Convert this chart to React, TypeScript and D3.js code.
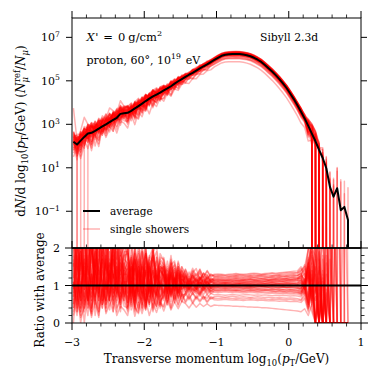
import React from 'react';
import * as d3 from 'd3';

// log10(pT/GeV) bin centres
const binCenters = [
  -2.98, -2.93, -2.88, -2.83, -2.78, -2.73, -2.68, -2.63, -2.58, -2.53, -2.48, -2.43, -2.38, -2.33, -2.28,
  -2.23, -2.18, -2.13, -2.08, -2.03, -1.98, -1.93, -1.88, -1.83, -1.78, -1.73, -1.68, -1.63, -1.58, -1.53,
  -1.48, -1.43, -1.38, -1.33, -1.28, -1.23, -1.18, -1.13, -1.08, -1.03, -0.98, -0.93, -0.88, -0.83, -0.78,
  -0.73, -0.68, -0.63, -0.58, -0.53, -0.48, -0.43, -0.38, -0.33, -0.28, -0.23, -0.18, -0.13, -0.08, -0.03,
  0.02, 0.07, 0.12, 0.17, 0.22, 0.27, 0.32, 0.37, 0.42, 0.47, 0.52, 0.57, 0.62, 0.67, 0.72, 0.77, 0.82, 0.87,
];

// average spectrum, log10 of dN/dlog10(pT); null = empty bin
const averageLog10: (number | null)[] = [
  2.2, 2.07, 2.25, 2.42, 2.58, 2.61, 2.7, 2.8, 2.9, 3.0, 3.1, 3.2, 3.3, 3.48, 3.51,
  3.53, 3.62, 3.73, 3.84, 3.95, 4.07, 4.18, 4.28, 4.37, 4.46, 4.56, 4.65, 4.75, 4.87, 4.98,
  5.08, 5.18, 5.28, 5.37, 5.47, 5.57, 5.67, 5.76, 5.86, 5.96, 6.06, 6.15, 6.2, 6.22, 6.23,
  6.23, 6.23, 6.21, 6.18, 6.13, 6.06, 5.97, 5.87, 5.73, 5.58, 5.43, 5.26, 5.08, 4.88, 4.67,
  4.42, 4.16, 3.88, 3.58, 3.27, 2.93, 2.57, 2.22, 1.82, 1.45, 0.98, 0.12, -0.33, 0.06, -0.95, -0.8, -1.4, null,
];

// single showers: ratio to the average, in percent (bins 0..76)
const singleShowerRatioPct: number[][] = [
  [140,60,210,90,170,40,130,250,80,110,190,70,150,95,120, 60,180,95,40,150,130,70,200,110,55, 75,140,90,120,60,115, 115,90,108,120,95,105,112,98, 101,102,103,102,101,102,103,104,103,102,102,101,102,103,102,101,102,103,102,102,101,102,103,102, 95,118,75,160, 80,140,0,210,0,0,0,0,0,0],
  [60,180,120,0,90,220,70,140,110,40,160,130,75,180,90, 150,45,170,90,35,135,160,60,120,140, 125,65,105,140,80,110, 82,105,90,85,108,95,88,100, 95,96,95,94,95,96,95,94,94,95,96,95,94,95,96,95,94,95,95,96,95,94,93,94, 88,75,120,45, 130,0,95,0,250,0,0,0,0,0],
  [3500,150,80,200,60,120,280,100,50,170,90,210,120,65,150, 200,80,140,170,50,160,90,190,75,140, 155,85,135,80,150,100, 125,98,118,95,122,105,115,108, 110,111,110,109,110,111,112,111,110,110,111,112,111,110,111,112,113,112,111,112,113,114,115,116, 125,100,165,210, 90,0,180,0,0,600,0,0,0,0],
  [0,130,50,160,110,30,200,80,140,60,120,170,55,100,140, 40,130,35,150,100,55,140,70,45,115, 60,120,70,125,65,100, 100,80,95,82,76,98,84,94, 90,89,90,91,90,89,88,89,90,91,90,89,90,89,88,89,90,89,88,88,87,88,87,86, 82,100,50,130, 0,170,60,0,0,0,0,0,0,0],
  [220,100,260,150,80,190,120,300,140,90,240,160,110,200,130, 170,220,80,190,120,200,85,165,190,105, 150,95,165,105,145,100, 130,105,132,112,138,108,125,112, 118,119,118,117,118,119,120,119,118,119,120,121,120,119,120,121,122,121,122,123,124,123,124,125, 135,110,175,90, 200,60,0,300,0,0,800,0,0,0],
  [100,30,180,70,240,130,60,160,200,90,140,50,190,110,80, 130,175,55,125,190,75,150,80,135,165, 130,80,140,90,120,140, 95,118,100,92,120,102,97,112, 105,104,105,106,105,104,105,106,107,106,105,104,105,106,105,106,107,106,105,106,107,106,107,108, 112,90,145,60, 150,0,0,130,0,0,0,0,0,0],
  [50,120,70,30,150,90,190,40,100,160,60,110,200,70,95, 45,115,150,55,125,40,105,140,60,50, 100,55,115,65,105,75, 76,98,82,95,78,92,96,82, 88,87,88,89,88,87,88,87,86,87,88,87,86,87,88,87,86,85,86,85,84,85,84,83, 80,98,55,140, 0,80,0,0,500,0,0,0,0,0],
  [190,250,130,300,170,210,90,180,260,150,110,230,170,400,210, 185,95,215,120,195,105,180,165,90,175, 170,110,160,105,150,115, 138,112,135,145,116,132,115,130, 125,126,127,126,125,126,127,128,127,126,127,128,127,128,129,128,127,128,129,130,131,132,133,134, 140,150,195,260, 240,130,300,0,0,0,900,0,0,0],
  [130,80,30,140,100,60,170,120,70,210,100,140,80,160,60, 120,150,70,135,40,165,115,65,140,80, 115,130,70,120,80,125, 90,110,88,106,86,102,108,92, 98,97,98,99,98,97,98,99,98,97,98,97,98,99,98,97,98,99,98,97,96,97,98,97, 92,115,70,180, 60,200,0,0,0,0,0,0,1500,0],
  [80,210,150,90,260,110,160,70,190,130,250,90,160,120,170, 160,70,185,100,155,85,175,145,80,150, 145,85,150,95,135,90, 122,100,126,104,118,124,102,120, 112,113,112,111,112,113,112,113,114,113,112,113,114,113,112,113,114,115,114,115,116,115,116,117, 120,100,160,230, 110,0,0,0,220,0,0,0,0,0],
  [40,110,30,90,60,130,20,80,50,110,35,90,60,120,45, 40,110,30,95,55,35,100,50,90,40, 85,48,95,55,88,58, 84,66,80,68,85,70,66,79, 75,76,75,74,75,76,75,74,75,76,75,74,75,74,75,74,73,74,73,74,73,72,73,72, 70,85,40,115, 0,0,120,0,0,0,0,0,0,0],
  [160,90,140,230,50,170,110,60,150,220,80,130,100,60,140, 70,140,165,65,125,150,50,140,80,65, 120,75,125,80,115,130, 92,110,96,90,108,104,92,105, 100,101,100,99,100,101,100,99,100,101,100,101,100,99,100,101,102,101,100,101,102,101,100,101, 105,88,130,65, 170,0,140,0,0,0,0,2500,0,0],
  [270,140,200,110,190,280,130,220,90,180,450,260,110,190,150, 195,105,185,85,170,205,100,180,120,105, 160,105,155,165,100,150, 132,110,138,115,112,132,128,114, 122,123,122,121,122,123,124,123,122,123,124,123,124,125,124,123,124,125,126,125,126,127,128,127, 130,145,110,250, 250,100,0,0,0,0,0,0,400,0],
  [70,150,100,40,180,80,130,200,60,110,170,40,120,90,130, 130,50,145,75,60,135,55,120,130,60, 70,115,75,120,72,110, 84,104,86,100,82,102,98,86, 93,92,93,94,93,92,93,94,93,92,93,92,91,92,93,92,91,92,91,90,91,90,89,90, 85,100,60,150, 0,120,0,80,0,0,0,0,0,0],
  [120,200,60,170,130,240,90,150,110,60,190,120,230,80,130, 145,175,80,155,65,140,170,75,145,90, 130,145,80,135,88,130, 118,96,120,100,116,98,115,100, 108,107,108,109,108,107,108,109,108,109,110,109,108,109,110,109,110,111,110,111,112,111,112,113, 115,95,150,80, 140,190,0,0,0,700,0,0,0,0],
  [30,90,0,60,120,40,80,20,100,50,70,130,30,80,60, 35,95,45,28,90,40,100,35,80,55, 45,85,42,80,50,82, 58,76,56,72,60,72,58,70, 66,65,66,67,66,65,66,65,64,65,66,65,64,65,64,63,64,63,64,63,62,63,62,61, 60,72,35,95, 0,60,0,0,0,0,0,0,0,0],
  [180,70,250,130,90,200,150,280,100,170,60,200,140,250,110, 110,195,95,170,80,185,110,90,175,100, 150,90,140,155,95,138, 125,104,128,108,124,106,122,108, 115,116,115,114,115,116,117,116,115,116,117,116,117,118,117,116,117,118,119,118,119,120,121,120, 125,150,100,220, 190,0,260,0,170,0,0,0,0,0],
  [110,40,160,70,20,130,50,170,90,60,140,70,110,40,120, 55,125,40,110,135,45,115,60,45,110, 65,112,58,105,68,100, 95,74,92,77,96,76,92,78, 85,84,85,86,85,84,85,84,83,84,85,84,83,84,83,82,83,82,81,82,81,80,81,80, 78,92,50,120, 50,0,0,0,0,0,0,0,0,0],
  [150,300,190,250,120,280,200,140,310,170,230,120,270,180,200, 215,120,195,225,105,190,125,205,110,185, 165,115,170,108,160,115, 142,118,140,122,144,120,138,122, 128,129,128,127,128,129,130,129,128,129,130,131,130,129,130,131,132,131,132,133,134,135,134,135, 145,125,190,280, 280,150,0,350,0,0,0,0,0,3000],
  [90,160,120,60,200,100,140,80,230,120,70,180,90,150,100, 135,65,160,85,150,70,165,90,75,145, 125,80,135,85,130,82, 112,92,115,95,112,94,110,96, 103,102,103,104,103,102,103,104,103,104,103,102,103,104,105,104,103,104,105,104,105,106,105,104, 108,90,140,55, 100,0,0,160,0,0,0,0,0,0],
  [20,70,15,40,80,15,60,30,90,25,50,70,20,45,35, 20,65,18,55,25,62,20,52,28,58, 32,60,35,56,38,58, 52,40,54,42,52,44,51,44, 48,47,47,46,46,45,45,44,44,43,43,42,42,41,41,40,39,38,37,36,35,34,33,32, 30,38,20,50, 0,0,0,0,0,0,0,0,0,0],
  [250,130,190,90,220,160,270,110,180,240,100,170,210,130,180, 185,100,200,120,90,180,115,195,105,170, 155,100,160,105,150,104, 132,110,130,112,134,112,128,114, 120,121,120,119,120,121,122,121,120,121,122,121,122,123,122,121,122,123,124,123,124,125,126,127, 132,110,170,85, 160,240,0,0,0,0,0,0,0,0],
  [40,100,170,120,60,140,190,90,40,130,160,80,110,170,70, 125,60,145,70,165,80,55,140,70,125, 80,130,72,120,80,118, 106,88,108,90,104,89,104,92, 97,96,97,98,97,96,97,98,97,96,97,96,97,98,97,96,97,96,95,96,95,96,95,94, 92,105,70,190, 0,90,0,0,0,300,0,0,0,0],
  [140,220,80,180,110,60,200,130,170,90,230,110,80,180,120, 145,75,170,90,155,185,80,150,165,85, 138,86,132,145,84,128, 114,100,112,104,110,102,112,101, 107,108,107,106,107,108,107,106,107,108,107,108,109,108,107,108,109,108,109,110,109,110,111,112, 115,100,150,200, 120,0,0,0,0,0,0,2000,0,0],
  [60,20,110,50,90,30,140,70,40,100,60,30,90,55,110, 95,35,85,115,40,90,45,100,55,45, 90,50,94,54,86,56, 78,62,80,64,77,63,76,64, 70,71,70,69,70,71,70,69,70,69,68,69,70,69,68,69,68,67,68,67,66,67,66,65, 62,80,40,100, 0,0,0,0,0,0,0,0,0,0],
  [200,110,60,230,140,100,170,60,210,150,120,190,70,160,140, 160,85,175,100,190,90,155,175,95,150, 142,92,148,88,140,98, 124,104,126,106,122,105,121,107, 113,112,113,114,113,112,113,114,113,114,115,114,113,114,115,114,115,116,115,116,117,116,117,118, 120,100,160,70, 210,0,170,0,0,0,0,0,0,0],
  [110,50,190,130,70,25,150,100,60,180,80,120,150,50,100, 65,150,50,130,75,55,145,70,125,60, 115,70,120,75,112,72, 101,84,100,85,99,86,98,85, 92,91,92,93,92,91,92,91,90,91,92,91,90,91,90,89,90,89,90,89,88,89,88,87, 84,100,55,140, 0,0,110,0,0,0,0,0,0,0],
  [230,160,290,800,260,190,140,240,180,300,130,210,160,230,170, 195,230,115,210,125,200,120,190,205,120, 175,120,180,115,165,122, 144,124,146,126,142,123,140,125, 130,131,130,129,130,131,132,131,130,131,132,133,132,131,132,133,134,133,134,135,136,137,138,139, 150,130,200,270, 300,200,0,0,450,0,0,0,0,0],
  [120,170,40,100,150,220,70,120,160,80,130,200,110,70,160, 80,165,70,150,85,60,155,90,70,140, 125,80,132,78,126,84, 110,92,112,94,108,93,110,95, 101,100,101,102,101,100,101,102,101,100,101,102,101,100,101,102,103,102,101,102,103,102,101,102, 106,90,135,60, 90,110,0,0,0,0,0,0,0,0],
  [50,100,20,80,40,110,60,15,90,30,70,100,40,65,85, 30,90,40,25,85,35,95,30,75,50, 42,82,38,75,45,78, 54,70,52,68,56,69,54,67, 62,61,62,63,62,61,62,61,60,61,62,61,60,61,60,59,60,59,58,59,58,57,58,57, 55,65,30,90, 0,0,0,0,0,0,0,0,0,0],
  [170,40,230,110,60,260,140,90,200,50,150,180,70,130,220, 80,170,60,140,120,45,160,100,75,150, 125,80,130,85,120,95, 112,94,110,98,114,96,108,100, 104,103,104,105,104,103,104,105,104,103,104,105,104,103,104,105,106,105,104,105,106,105,106,105, 110,90,150,40, 0,120,230,0,0,0,0,0,0,0],
  [90,200,40,150,250,70,120,30,170,110,60,210,100,50,150, 140,55,120,75,160,90,50,135,100,70, 85,120,75,115,90,105, 100,88,104,90,98,86,102,92, 96,95,96,97,96,95,96,95,94,95,96,95,96,97,96,95,96,95,94,95,94,95,94,93, 90,110,65,175, 140,0,0,0,0,0,0,0,0,0],
  [280,120,60,200,150,300,90,170,230,120,70,250,160,100,190, 190,90,170,130,75,185,140,95,175,120, 150,100,145,95,140,110, 128,106,125,110,122,108,120,112, 116,117,116,115,116,117,118,117,116,117,118,117,118,119,118,117,118,119,120,119,120,121,122,121, 128,115,160,110, 220,0,0,180,0,350,0,0,0,0],
  [60,140,190,40,110,70,160,220,50,90,130,30,150,80,110, 55,120,45,105,130,50,110,75,40,100, 105,60,110,65,100,70, 80,95,82,92,78,94,80,90, 87,86,87,88,87,86,87,86,85,86,87,86,85,86,87,86,85,84,85,84,83,84,83,82, 78,92,45,105, 0,0,0,90,0,0,0,0,0,0],
  [130,250,90,170,40,210,120,70,180,140,260,90,120,200,60, 120,160,70,150,95,175,80,145,110,90, 140,90,130,100,135,92, 100,118,104,115,102,116,100,114, 109,110,109,108,109,110,109,110,111,110,109,110,111,110,111,112,111,112,113,112,113,114,113,114, 120,132,90,200, 180,100,0,0,0,0,0,0,0,0],
  [300,150,220,100,270,190,60,240,160,290,110,200,250,140,180, 210,110,190,150,205,125,175,200,115,160, 110,165,115,160,120,150, 115,136,118,132,114,134,118,130, 124,125,124,123,124,125,126,125,124,125,126,125,126,127,126,125,126,127,128,127,128,129,130,131, 138,155,120,240, 260,180,0,0,0,0,0,0,0,0],
  [110,60,170,230,80,130,40,190,120,60,150,220,90,140,70, 95,145,60,130,110,65,150,85,125,100, 80,125,85,118,82,116, 106,90,104,92,108,94,102,96, 99,98,99,100,99,98,99,100,99,98,99,100,99,98,99,100,101,100,99,100,99,100,99,98, 96,80,125,50, 70,0,130,0,0,0,0,0,0,0],
  [120,30,90,150,60,20,130,80,170,40,100,60,140,30,90, 45,110,70,35,120,60,100,40,95,70, 100,58,98,62,95,66, 74,90,76,88,72,90,76,86, 82,81,82,83,82,81,82,81,80,81,82,81,80,81,80,79,80,79,78,79,78,77,78,77, 74,88,55,30, 0,0,0,0,0,0,0,0,0,0],
  [70,220,140,260,110,180,250,90,130,200,60,170,120,230,100, 170,80,155,185,95,140,70,180,130,100, 100,150,98,145,105,140, 104,124,106,120,102,122,108,118, 114,115,114,113,114,115,114,113,114,115,116,115,114,115,116,115,116,117,116,117,118,117,118,119, 126,108,150,190, 100,0,0,250,0,0,0,0,0,0],
  [190,110,70,240,150,90,210,130,60,180,120,80,230,110,160, 100,150,60,165,80,140,115,70,155,95, 128,84,125,88,132,90, 98,114,100,112,96,116,100,110, 106,105,106,107,106,105,106,107,106,105,106,107,106,105,106,107,108,107,106,107,108,107,106,107, 115,96,140,75, 0,150,0,0,0,0,600,0,0,0],
];

const xMajorTicks = [-3, -2, -1, 0, 1];
const yMajorExponents = [-1, 1, 3, 5, 7];
const ratioMajorTicks = [0, 1, 2];
const ratioMinorTicks = [0.2, 0.4, 0.6, 0.8, 1.2, 1.4, 1.6, 1.8];

const FONT = '"DejaVu Serif", serif';

type Seg = { t: string; it?: boolean; pos?: 'sub' | 'sup'; dx?: number };
function Rich({ segs, size, ...rest }: { segs: Seg[]; size: number; [k: string]: any }) {
  let cur = 0;
  const kids = segs.map((s, i) => {
    const off = s.pos === 'sub' ? size * 0.28 : s.pos === 'sup' ? -size * 0.42 : 0;
    const dy = off - cur;
    cur = off;
    return (
      <tspan key={i} dy={dy} dx={s.dx} fontStyle={s.it ? 'italic' : 'normal'} fontSize={s.pos ? size * 0.7 : size}>
        {s.t}
      </tspan>
    );
  });
  return (
    <text fontSize={size} fontFamily={FONT} fill="#000" style={{ whiteSpace: 'pre' }} {...rest}>
      {kids}
    </text>
  );
}

export default function App() {
  const W = 379, H = 377;
  const L = 72, R = 361, T = 18, M = 248, B = 323;
  const MAJ = 7, MIN = 3.5;

  const x = d3.scaleLinear().domain([-3, 1]).range([L, R]);
  const y = d3.scaleLog().domain([Math.pow(10, -2.69), Math.pow(10, 7.89)]).range([M, T]);
  const yr = d3.scaleLinear().domain([0, 2]).range([B, M]);
  const TINY = 1e-300;

  const avg = averageLog10.map((v) => (v === null ? 0 : Math.pow(10, v)));
  const line = d3
    .line<[number, number]>()
    .x((d) => x(d[0]))
    .y((d) => y(Math.max(d[1], TINY)));
  const rline = d3
    .line<[number, number]>()
    .x((d) => x(d[0]))
    .y((d) => yr(d[1]));

  const showerPaths = singleShowerRatioPct.map((row) =>
    line(binCenters.map((c, i) => [c, i < row.length ? (avg[i] * row[i]) / 100 : 0] as [number, number]))
  );
  const ratioPaths = singleShowerRatioPct.map((row) =>
    rline(row.map((r, i) => [binCenters[i], r / 100] as [number, number]))
  );
  const avgPath = line(binCenters.map((c, i) => [c, avg[i]] as [number, number]));

  const xAll = d3.range(-30, 11, 2).map((v) => v / 10);
  const xMinor = xAll.filter((v) => Math.abs(v - Math.round(v)) > 1e-6);

  const red = 'rgb(255,0,0)';
  const RW = 1.5;

  return (
    <svg width={W} height={H} style={{ position: 'absolute', left: 0, top: 0, background: '#fff' }}>
      <defs>
        <clipPath id="cTop">
          <rect x={L} y={T} width={R - L} height={M - T} />
        </clipPath>
        <clipPath id="cBot">
          <rect x={L} y={M} width={R - L} height={B - M} />
        </clipPath>
      </defs>
      <rect x={0} y={0} width={W} height={H} fill="#fff" />

      {/* top panel */}
      <g clipPath="url(#cTop)">
        {showerPaths.map((p, i) => (
          <path key={i} d={p || ''} fill="none" stroke={red} strokeOpacity={0.3} strokeWidth={RW} strokeLinejoin="round" />
        ))}
        <path d={avgPath || ''} fill="none" stroke="#000" strokeWidth={2} strokeLinejoin="round" />
      </g>

      {/* ratio panel */}
      <g clipPath="url(#cBot)">
        {ratioPaths.map((p, i) => (
          <path key={i} d={p || ''} fill="none" stroke={red} strokeOpacity={0.3} strokeWidth={RW} strokeLinejoin="round" />
        ))}
        <line x1={L} x2={R} y1={yr(1)} y2={yr(1)} stroke="#000" strokeWidth={2} />
      </g>

      {/* frames */}
      <rect x={L} y={T} width={R - L} height={M - T} fill="none" stroke="#000" strokeWidth={1} />
      <rect x={L} y={M} width={R - L} height={B - M} fill="none" stroke="#000" strokeWidth={1} />
      <line x1={L} x2={R} y1={M} y2={M} stroke="#000" strokeWidth={1.6} />

      {/* x ticks */}
      {xMajorTicks.map((v) => (
        <g key={'xm' + v} stroke="#000" strokeWidth={1}>
          <line x1={x(v)} x2={x(v)} y1={T} y2={T - MAJ} />
          <line x1={x(v)} x2={x(v)} y1={M} y2={M - MAJ} />
          <line x1={x(v)} x2={x(v)} y1={B} y2={B + MAJ} />
        </g>
      ))}
      {xMinor.map((v) => (
        <g key={'xn' + v} stroke="#000" strokeWidth={0.8}>
          <line x1={x(v)} x2={x(v)} y1={T} y2={T - MIN} />
          <line x1={x(v)} x2={x(v)} y1={M} y2={M - MIN} />
          <line x1={x(v)} x2={x(v)} y1={B} y2={B + MIN} />
        </g>
      ))}
      {xMajorTicks.map((v) => (
        <text key={'xl' + v} x={x(v)} y={346} fontSize={11} fontFamily={FONT} textAnchor="middle">
          {v < 0 ? '\u2212' + Math.abs(v) : String(v)}
        </text>
      ))}

      {/* log y ticks */}
      {yMajorExponents.map((e) => {
        const yy = y(Math.pow(10, e));
        return (
          <g key={'ye' + e}>
            <line x1={L - MAJ + 1} x2={L} y1={yy} y2={yy} stroke="#000" strokeWidth={1} />
            <line x1={R} x2={R + MAJ - 1} y1={yy} y2={yy} stroke="#000" strokeWidth={1} />
            <Rich
              x={60}
              y={yy + 4}
              size={11}
              textAnchor="end"
              segs={[{ t: '10' }, { t: e < 0 ? '\u2212' + Math.abs(e) : String(e), pos: 'sup' }]}
            />
          </g>
        );
      })}

      {/* ratio y ticks */}
      {ratioMajorTicks.map((v) => (
        <g key={'rm' + v}>
          <line x1={L - MAJ} x2={L} y1={yr(v)} y2={yr(v)} stroke="#000" strokeWidth={1} />
          <line x1={R} x2={R + MAJ} y1={yr(v)} y2={yr(v)} stroke="#000" strokeWidth={1} />
          <text x={60} y={yr(v) + 4} fontSize={11} fontFamily={FONT} textAnchor="end">
            {String(v)}
          </text>
        </g>
      ))}
      {ratioMinorTicks.map((v) => (
        <g key={'rn' + v} stroke="#000" strokeWidth={0.8}>
          <line x1={L - MIN} x2={L} y1={yr(v)} y2={yr(v)} />
          <line x1={R} x2={R + MIN} y1={yr(v)} y2={yr(v)} />
        </g>
      ))}

      {/* axis labels */}
      <Rich
        x={216.5}
        y={363}
        size={12}
        textAnchor="middle"
        segs={[
          { t: 'Transverse momentum log' },
          { t: '10', pos: 'sub' },
          { t: '(' },
          { t: 'p', it: true },
          { t: 'T', pos: 'sub' },
          { t: '/GeV)' },
        ]}
      />
      <Rich
        transform="translate(25,131) rotate(-90)"
        x={0}
        y={0}
        size={12}
        textAnchor="middle"
        segs={[
          { t: 'd' },
          { t: 'N', it: true },
          { t: '/d log' },
          { t: '10', pos: 'sub' },
          { t: '(' },
          { t: 'p', it: true },
          { t: 'T', pos: 'sub' },
          { t: '/GeV) (' },
          { t: 'N', it: true },
          { t: '\u03bc', it: true, pos: 'sub' },
          { t: 'ref', pos: 'sup', dx: -5 },
          { t: '/' },
          { t: 'N', it: true },
          { t: '\u03bc', it: true, pos: 'sub' },
          { t: ')' },
        ]}
      />
      <text transform="translate(44,290) rotate(-90)" fontSize={12} fontFamily={FONT} textAnchor="middle">
        Ratio with average
      </text>

      {/* annotations */}
      <Rich
        x={86.5}
        y={41}
        size={11.5}
        segs={[
          { t: 'X', it: true },
          { t: "'", dx: 0.5 },
          { t: '=', dx: 5 },
          { t: '0', dx: 5 },
          { t: 'g/cm', dx: 3 },
          { t: '2', pos: 'sup' },
        ]}
      />
      <Rich
        x={86.5}
        y={64}
        size={11}
        segs={[{ t: 'proton, 60\u00b0, 10' }, { t: '19', pos: 'sup' }, { t: ' eV', dx: 1.5 }]}
      />
      <text x={260} y={41} fontSize={10.8} fontFamily={FONT}>
        Sibyll 2.3d
      </text>

      {/* legend */}
      <line x1={83} x2={100} y1={211} y2={211} stroke="#000" strokeWidth={2} />
      <text x={110} y={214.5} fontSize={10.5} fontFamily={FONT}>
        average
      </text>
      <line x1={83} x2={100} y1={229} y2={229} stroke={red} strokeOpacity={0.3} strokeWidth={RW} />
      <text x={110} y={232.5} fontSize={10.5} fontFamily={FONT}>
        single showers
      </text>
    </svg>
  );
}
